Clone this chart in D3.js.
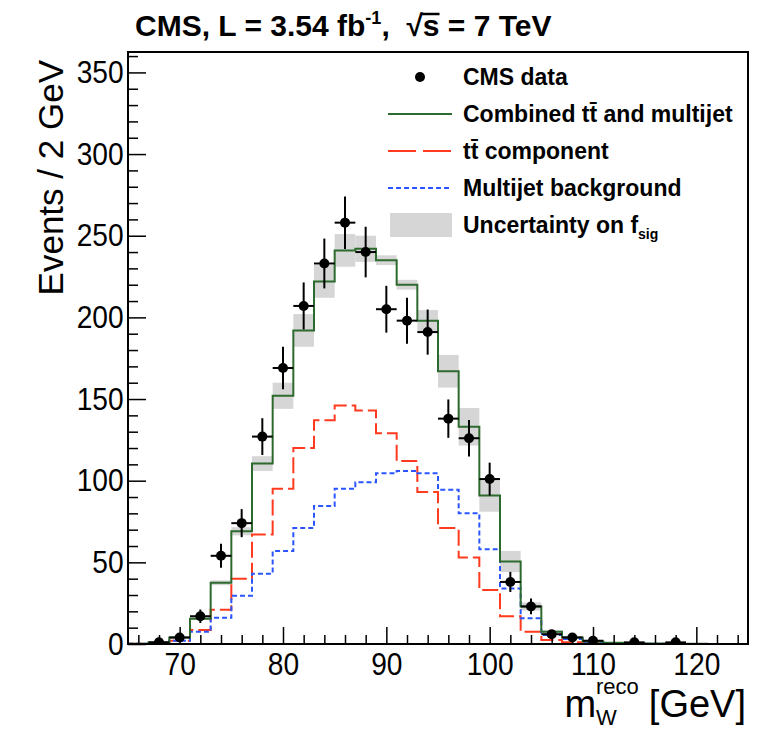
<!DOCTYPE html>
<html>
<head>
<meta charset="utf-8">
<script src="https://cdn.jsdelivr.net/npm/d3@7"></script>
<style>
  body { margin: 0; background: #fff; }
  text { font-family: "Liberation Sans", Arial, Helvetica, sans-serif; fill: #000; }
</style>
</head>
<body>
<div id="chart"></div>
<script>
// 2 GeV bins from 65 to 125 GeV
var binCenters = [66, 68, 70, 72, 74, 76, 78, 80, 82, 84, 86, 88, 90, 92, 94, 96, 98, 100, 102, 104, 106, 108, 110, 112, 114, 116, 118, 120, 122, 124];
var dataCounts = [null, 1, 4, 17, 54, 74, 127, 169, 207, 233, 258, 240, 205, 198, 191, 138, 126, 101, 38, 23, 6, 4, 2, null, 1, null, 1, null, null, null];
var combined = [0.2, 1, 4, 15.5, 37.5, 69, 110.5, 152, 192, 222, 241, 242, 235, 220, 198, 167, 133, 91, 50.5, 23, 7.5, 4, 1.5, 0.8, 0.4, 0.25, 0.15, 0.1, 0.05, 0.05];
var ttbar = [0.1, 0.5, 2, 8.5, 21, 40, 67, 95, 120, 137, 146, 143, 129, 112, 93, 71, 53, 33, 17, 7.5, 2.5, 1, 0.4, 0.2, 0.1, 0.05, 0.05, 0.05, 0, 0];
var multijet = [0.1, 0.5, 2, 7.5, 16, 29.5, 43, 57, 71, 84.5, 95, 99, 104.5, 106, 104.5, 94.5, 80, 58, 34, 15.7, 5.5, 3, 1.1, 0.6, 0.3, 0.2, 0.1, 0.05, 0.05, 0];
var fsigBand = [0, 0.1, 0.3, 0.8, 1.5, 2.5, 4.5, 8, 10, 10, 10, 8, 3, 3, 6.5, 10, 11.5, 10, 6.5, 2.5, 1, 0.5, 0.3, 0.1, 0, 0, 0, 0, 0, 0];
var binWidth = 2;

var xTicks = [70, 80, 90, 100, 110, 120];
var yTicks = [0, 50, 100, 150, 200, 250, 300, 350];
var legendLabels = ['CMS data', 'Combined t\u0074\u0304 and multijet', 't\u0074\u0304 component', 'Multijet background', 'Uncertainty on f'];

var W = 761, H = 731;
var fLeft = 128, fRight = 748, fTop = 52, fBottom = 644;

var svg = d3.select('#chart')
  .append('svg')
  .attr('width', W)
  .attr('height', H);

var x = d3.scaleLinear().domain([65, 125]).range([fLeft, fRight]);
var y = d3.scaleLinear().domain([0, 362.5]).range([fBottom, fTop]);

svg.append('clipPath').attr('id', 'frame')
  .append('rect')
  .attr('x', fLeft).attr('y', fTop)
  .attr('width', fRight - fLeft).attr('height', fBottom - fTop);

var plot = svg.append('g').attr('clip-path', 'url(#frame)');

var bins = binCenters.map(function(c, i) {
  return { c: c, data: dataCounts[i], comb: combined[i], tt: ttbar[i], mj: multijet[i], band: fsigBand[i] };
});

// uncertainty band
plot.selectAll('.band')
  .data(bins.filter(function(d) { return d.band > 0; }))
  .enter().append('rect')
  .attr('fill', '#d6d6d6')
  .attr('x', function(d) { return x(d.c - binWidth / 2); })
  .attr('width', function(d) { return x(d.c + binWidth / 2) - x(d.c - binWidth / 2); })
  .attr('y', function(d) { return y(d.comb + d.band); })
  .attr('height', function(d) { return y(d.comb - d.band) - y(d.comb + d.band); });

function steps(key) {
  var pts = [];
  bins.forEach(function(d) {
    pts.push([d.c - binWidth / 2, d[key]]);
    pts.push([d.c + binWidth / 2, d[key]]);
  });
  return pts;
}

var line = d3.line()
  .x(function(d) { return x(d[0]); })
  .y(function(d) { return y(d[1]); });

plot.append('path').attr('d', line(steps('tt')))
  .attr('fill', 'none').attr('stroke', '#ff3a1e').attr('stroke-width', 2)
  .attr('stroke-dasharray', '16,5');
plot.append('path').attr('d', line(steps('mj')))
  .attr('fill', 'none').attr('stroke', '#2a55ff').attr('stroke-width', 2)
  .attr('stroke-dasharray', '5,3');
plot.append('path').attr('d', line(steps('comb')))
  .attr('fill', 'none').attr('stroke', '#2d6a2d').attr('stroke-width', 2);

// data points with sqrt(N) errors
var pts = plot.selectAll('.pt')
  .data(bins.filter(function(d) { return d.data !== null; }))
  .enter().append('g');
pts.append('line')
  .attr('x1', function(d) { return x(d.c); })
  .attr('x2', function(d) { return x(d.c); })
  .attr('y1', function(d) { return y(d.data - Math.sqrt(d.data)); })
  .attr('y2', function(d) { return y(d.data + Math.sqrt(d.data)); })
  .attr('stroke', '#000').attr('stroke-width', 2);
pts.append('line')
  .attr('x1', function(d) { return x(d.c - binWidth / 2); })
  .attr('x2', function(d) { return x(d.c + binWidth / 2); })
  .attr('y1', function(d) { return y(d.data); })
  .attr('y2', function(d) { return y(d.data); })
  .attr('stroke', '#000').attr('stroke-width', 2);
pts.append('circle')
  .attr('cx', function(d) { return x(d.c); })
  .attr('cy', function(d) { return y(d.data); })
  .attr('r', 5)
  .attr('fill', '#000');

// axes
var xMinor = d3.range(66, 125, 2).filter(function(v) { return v % 10 !== 0; });
var yMinor = d3.range(10, 362, 10).filter(function(v) { return v % 50 !== 0; });

var gx = svg.append('g').attr('transform', 'translate(0,' + fBottom + ')');
gx.call(d3.axisBottom(x).tickValues(xTicks).tickSize(-17).tickPadding(8));
gx.append('g').call(d3.axisBottom(x).tickValues(xMinor).tickSize(-9).tickFormat(''));

var gy = svg.append('g').attr('transform', 'translate(' + fLeft + ',0)');
gy.call(d3.axisLeft(y).tickValues(yTicks).tickSize(-18).tickPadding(5));
gy.append('g').call(d3.axisLeft(y).tickValues(yMinor).tickSize(-10).tickFormat(''));

svg.selectAll('.domain').remove();
svg.selectAll('.tick line').attr('stroke', '#000').attr('stroke-width', 1.5);
gx.selectAll('.tick text')
  .attr('font-size', 32).attr('font-family', '"Liberation Sans", Arial, sans-serif')
  .attr('transform', 'scale(0.88,1)');
gy.selectAll('.tick text')
  .attr('font-size', 32).attr('font-family', '"Liberation Sans", Arial, sans-serif')
  .attr('transform', 'scale(0.88,1)');

svg.append('rect')
  .attr('x', fLeft).attr('y', fTop)
  .attr('width', fRight - fLeft).attr('height', fBottom - fTop)
  .attr('fill', 'none').attr('stroke', '#000').attr('stroke-width', 2);

// axis titles
svg.append('text')
  .attr('transform', 'translate(63,60) rotate(-90)')
  .attr('text-anchor', 'end')
  .attr('font-size', 35)
  .text('Events / 2 GeV');

function textWidth(str, size) {
  var t = svg.append('text').attr('font-size', size).text(str);
  var w = t.node().getComputedTextLength();
  t.remove();
  return w;
}
var xUnit = 746 - textWidth('[GeV]', 38);
var xSup = xUnit - 10 - textWidth('reco', 22);
var xM = xSup - textWidth('m', 38);
var xt = svg.append('text').attr('font-size', 38);
xt.append('tspan').attr('x', xM).attr('y', 717).text('m');
xt.append('tspan').attr('x', xSup).attr('y', 694).attr('font-size', 22).text('reco');
xt.append('tspan').attr('x', xSup).attr('y', 725).attr('font-size', 22).text('W');
xt.append('tspan').attr('x', xUnit).attr('y', 717).text('[GeV]');

// title
var title = svg.append('text').attr('x', 135).attr('y', 36)
  .attr('font-size', 30).attr('font-weight', 'bold')
  .style('white-space', 'pre');
title.append('tspan').text('CMS, L = 3.54 fb');
title.append('tspan').attr('font-size', 18).attr('dy', -12).text('-1');
title.append('tspan').attr('dy', 12).text(',  \u221As = 7 TeV');
var full = title.node().textContent;
var si = full.indexOf('\u221A') + 1;
var ex = title.node().getExtentOfChar(si);
var rx = title.node().getExtentOfChar(si - 1);
svg.append('line')
  .attr('x1', rx.x + rx.width - 1).attr('x2', ex.x + ex.width)
  .attr('y1', rx.y + 5).attr('y2', rx.y + 5)
  .attr('stroke', '#000').attr('stroke-width', 2.5);

// legend
var legY = [77, 114, 151, 188, 225];
var leg = svg.append('g');
leg.append('circle').attr('cx', 420).attr('cy', legY[0]).attr('r', 5).attr('fill', '#000');
leg.append('line').attr('x1', 388).attr('x2', 452).attr('y1', legY[1]).attr('y2', legY[1])
  .attr('stroke', '#2d6a2d').attr('stroke-width', 2);
leg.append('line').attr('x1', 388).attr('x2', 452).attr('y1', legY[2]).attr('y2', legY[2])
  .attr('stroke', '#ff3a1e').attr('stroke-width', 2).attr('stroke-dasharray', '28,7');
leg.append('line').attr('x1', 388).attr('x2', 452).attr('y1', legY[3]).attr('y2', legY[3])
  .attr('stroke', '#2a55ff').attr('stroke-width', 2).attr('stroke-dasharray', '5,3');
leg.append('rect').attr('x', 390).attr('y', legY[4] - 12).attr('width', 62).attr('height', 24)
  .attr('fill', '#d6d6d6');
legendLabels.forEach(function(t, i) {
  var tx = leg.append('text').attr('x', 463).attr('y', legY[i] + 8)
    .attr('font-size', 23).attr('font-weight', 'bold').text(t);
  if (i === 4) {
    tx.append('tspan').attr('font-size', 14).attr('dy', 6).text('sig');
  }
});
</script>
</body>
</html>
